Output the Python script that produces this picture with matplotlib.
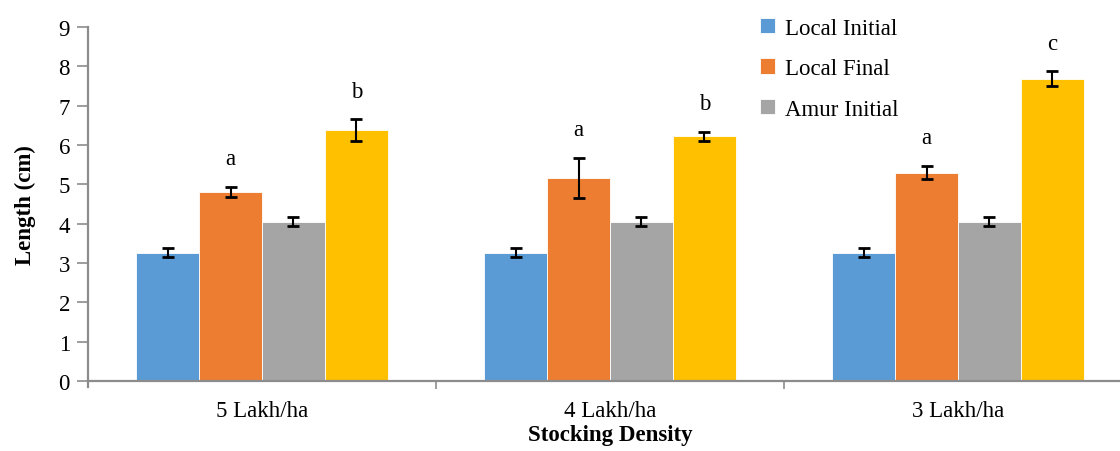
import matplotlib
matplotlib.use("Agg")
import matplotlib.pyplot as plt
import numpy as np

SERIF = 'Liberation Serif'
plt.rcParams['font.family'] = SERIF

categories = ["5 Lakh/ha", "4 Lakh/ha", "3 Lakh/ha"]
series_names = ["Local Initial", "Local Final", "Amur Initial", "Amur Final"]
local_initial = [3.26, 3.26, 3.26]
local_final = [4.81, 5.16, 5.30]
amur_initial = [4.05, 4.05, 4.05]
amur_final = [6.38, 6.22, 7.69]
local_initial_err = [0.12, 0.12, 0.12]
local_final_err = [0.12, 0.52, 0.16]
amur_initial_err = [0.11, 0.11, 0.11]
amur_final_err = [0.27, 0.11, 0.18]
local_final_letters = ["a", "a", "a"]
amur_final_letters = ["b", "b", "c"]

colors = ["#5B9BD5", "#ED7D31", "#A5A5A5", "#FFC000"]
means = [local_initial, local_final, amur_initial, amur_final]
errs = [local_initial_err, local_final_err, amur_initial_err, amur_final_err]

fig = plt.figure(figsize=(11.2, 4.52), dpi=100)
ax = fig.add_axes([88 / 1120, 70 / 452, 1044 / 1120, 354 / 452])

x = np.arange(len(categories))
w = 0.181
offsets = [-1.5 * w, -0.5 * w, 0.5 * w, 1.5 * w]
bars = []
for name, m, e, c, off in zip(series_names, means, errs, colors, offsets):
    b = ax.bar(x + off, m, width=w, color=c, edgecolor='white', linewidth=0.6,
               label=name, zorder=2)
    ax.errorbar(x + off, m, yerr=e, fmt='none', ecolor='black', elinewidth=1.5,
                capsize=4.5, capthick=2, zorder=3)
    bars.append(b)

fs = 16.5
# significance letters above the final-length bars
for i in range(len(categories)):
    ax.text(x[i] + offsets[1], local_final[i] + local_final_err[i] + 0.72,
            local_final_letters[i], ha='center', va='center', fontsize=fs,
            family=SERIF)
    ax.text(x[i] + offsets[3], amur_final[i] + amur_final_err[i] + 0.72,
            amur_final_letters[i], ha='center', va='center', fontsize=fs,
            family=SERIF)

ax.set_xlim(-0.5, 2.5)
ax.set_ylim(0, 9)
ax.set_yticks(range(0, 10))
ax.set_xticks(x)
ax.set_xticklabels(categories, fontsize=fs, family=SERIF)
for lbl in ax.get_yticklabels():
    lbl.set_family(SERIF)
ax.set_xticks([0.5, 1.5], minor=True)
ax.tick_params(axis='x', which='major', length=0, pad=14)
ax.tick_params(axis='x', which='minor', length=6, width=1.2, color='#8c8c8c')
ax.tick_params(axis='y', length=8, width=1.2, color='#8c8c8c', labelsize=fs, pad=5)

for s in ['top', 'right']:
    ax.spines[s].set_visible(False)
for s in ['left', 'bottom']:
    ax.spines[s].set_color('#8c8c8c')
    ax.spines[s].set_linewidth(1.6)
ax.spines['left'].set_bounds(-0.15, 9)

ax.set_ylabel("Length (cm)", fontsize=fs, fontweight='bold', labelpad=16,
              family=SERIF)
ax.set_xlabel("Stocking Density", fontsize=fs, fontweight='bold', labelpad=2,
              family=SERIF)

fig.legend(handles=bars[:3], labels=series_names[:3], loc='upper left',
           bbox_to_anchor=(739 / 1120, 1 + 2 / 452), frameon=False,
           prop={'family': SERIF, 'size': fs},
           handlelength=0.65, handleheight=0.65, handletextpad=0.45,
           labelspacing=0.85)

fig.savefig("out.png", dpi=100)
